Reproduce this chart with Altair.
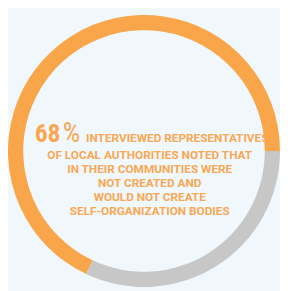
import math
import altair as alt
import pandas as pd

# data
categories = ["not stated", "no bodies created"]
shares = [32, 68]
ring_colors = ["#C6C7C6", "#F9A64B"]
big_number = "68"
big_suffix = "%"
headline_rest = "INTERVIEWED REPRESENTATIVES"
body_lines = [
    "OF LOCAL AUTHORITIES NOTED THAT",
    "IN THEIR COMMUNITIES WERE",
    "NOT CREATED AND",
    "WOULD NOT CREATE",
    "SELF-ORGANIZATION BODIES",
]

df = pd.DataFrame({"cat": categories, "share": shares, "ord": [0, 1]})

BG = "#F0F8FD"
TXT = "#F9A752"
BIG_FONT = "Roboto Condensed, Liberation Sans Narrow, DejaVu Sans Condensed, sans-serif"
FONT = "Roboto, Liberation Sans, DejaVu Sans, sans-serif"
OX, OY = 8, 8  # page margin offset

ring = alt.Chart(df).mark_arc(radius=143, radius2=127).encode(
    theta=alt.Theta("share:Q", stack=True,
                    scale=alt.Scale(range=[math.pi / 2, math.pi / 2 + 2 * math.pi])),
    order=alt.Order("ord:Q"),
    color=alt.Color("cat:N", scale=alt.Scale(domain=categories, range=ring_colors), legend=None),
    x=alt.value(147 - OX),
    y=alt.value(150 - OY),
)

t_num = alt.Chart(pd.DataFrame({"t": [big_number]})).mark_text(
    font=BIG_FONT, fontWeight="bold", fontSize=27, align="left", baseline="alphabetic", color=TXT
).encode(text="t:N", x=alt.value(32 - OX), y=alt.value(141 - OY))

t_pct = alt.Chart(pd.DataFrame({"t": [big_suffix]})).mark_text(
    font=BIG_FONT, fontWeight="normal", fontSize=29, align="right", baseline="alphabetic", color=TXT
).encode(text="t:N", x=alt.value(80 - OX), y=alt.value(141 - OY))

t_head = alt.Chart(pd.DataFrame({"t": [headline_rest]})).mark_text(
    font=FONT, fontWeight="bold", fontSize=12.4, align="left", baseline="alphabetic", color=TXT
).encode(text="t:N", x=alt.value(86 - OX), y=alt.value(141 - OY))

body = alt.Chart(pd.DataFrame({"t": [body_lines]})).mark_text(
    font=FONT, fontWeight="bold", fontSize=12.4, align="center", baseline="alphabetic",
    lineHeight=14.75, color=TXT
).encode(text="t:N", x=alt.value(153 - OX), y=alt.value(158 - OY))

chart = alt.layer(ring, t_num, t_pct, t_head, body).properties(
    width=272, height=275, background=BG, padding=0
).configure_view(stroke=None)

chart.save("out.html", embed_options={"renderer": "svg", "actions": False})
